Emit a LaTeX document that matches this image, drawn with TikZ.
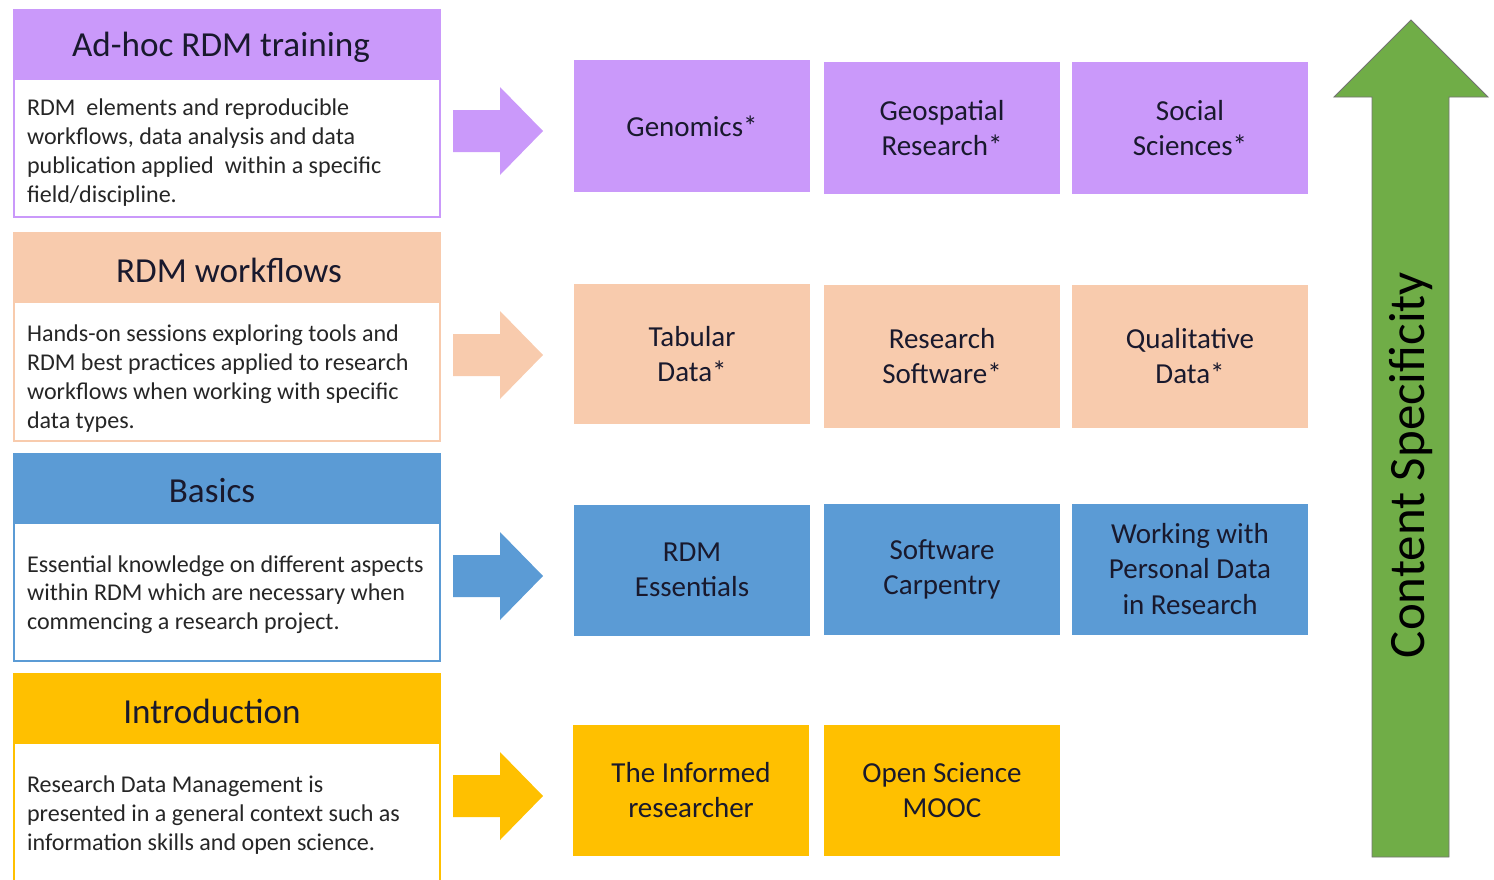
\documentclass[tikz,border=0pt]{standalone}
\usepackage{fontspec}
\setmainfont{Carlito}
\usepackage{xcolor}
\usetikzlibrary{positioning}
\definecolor{adhocpurple}{RGB}{202,153,250}
\definecolor{workflowpeach}{RGB}{248,203,173}
\definecolor{basicsblue}{RGB}{91,155,213}
\definecolor{introyellow}{RGB}{255,192,0}
\definecolor{specgreen}{RGB}{112,173,71}
\definecolor{headtext}{RGB}{25,25,45}

\tikzset{
  headbox/.style={minimum width=8.52cm, minimum height=1.4cm, inner sep=0pt, text=headtext},
  headtitle/.style={inner sep=0pt, font=\fontsize{20}{24}\selectfont, text=headtext},
  bodybox/.style={fill=white, minimum width=8.52cm, inner sep=0pt},
  bodytext/.style={anchor=west, align=left, inner sep=0pt, font=\fontsize{13.7}{16.5}\selectfont, text=black!85},
  course/.style={minimum width=4.74cm, inner sep=0pt, align=center, font=\fontsize{16.5}{20}\selectfont, text=headtext},
}

\begin{document}
\begin{tikzpicture}[x=0.02cm, y=-0.02cm]
    \useasboundingbox (0,0) rectangle (1494,879);
    % training levels on the left
    \foreach \i/\col/\top/\bh/\tx/\dy/\title/\body in {
        1/adhocpurple/10/136/221/4/{Ad-hoc RDM training}/{RDM\ \ elements and reproducible\\workflows, data analysis and data\\publication applied\ \ within a specific\\field/discipline.},
        2/workflowpeach/233/137/229/6/{RDM workflows}/{Hands-on sessions exploring tools and\\RDM best practices applied to research\\workflows when working with specific\\data types.},
        3/basicsblue/454/136/212/2/{Basics}/{Essential knowledge on different aspects\\within RDM which are necessary when\\commencing a research project.},
        4/introyellow/674/140/212/0/{Introduction}/{Research Data Management is\\presented in a general context such as\\information skills and open science.}} {
        \node[headbox, fill=\col] (head\i) at (227,\top+35) {};
        \node[headtitle] (title\i) at (\tx,\top+37) {\title};
        \node[bodybox, minimum height=\bh*0.02cm, below=0pt of head\i] (body\i) {};
        \draw[\col, line width=1.2pt] (head\i.north west) rectangle (body\i.south east);
        \node[bodytext] (txt\i) at ([xshift=0.26cm, yshift=-\dy*0.02cm]body\i.west) {\body};
    }
    % block arrows
    \foreach \y/\col in {131/adhocpurple, 355/workflowpeach, 576/basicsblue, 796/introyellow}
        \fill[\col] (453,\y-21) -- (500,\y-21) -- (500,\y-44) -- (543,\y) -- (500,\y+44) -- (500,\y+21) -- (453,\y+21) -- cycle;
    % courses
    \foreach \r/\c/\x/\y/\h/\col/\label in {
        1/1/692/126/132/adhocpurple/{Genomics*},
        1/2/942/128/132/adhocpurple/{Geospatial\\Research*},
        1/3/1190/128/132/adhocpurple/{Social\\Sciences*},
        2/1/692/354/140/workflowpeach/{Tabular\\Data*},
        2/2/942/356/143/workflowpeach/{Research\\Software*},
        2/3/1190/356/143/workflowpeach/{Qualitative\\Data*},
        3/1/692/570/131/basicsblue/{RDM\\Essentials},
        3/2/942/569/131/basicsblue/{Software\\Carpentry},
        3/3/1190/569/131/basicsblue/{Working with\\Personal Data\\in Research},
        4/1/691/790/131/introyellow/{The Informed\\researcher},
        4/2/942/790/131/introyellow/{Open Science\\MOOC}}
        \node[course, fill=\col, minimum height=\h*0.02cm] (c\r-\c) at (\x,\y) {\label};
    % content specificity arrow
    \filldraw[fill=specgreen, draw=black!55, line width=0.5pt] (1372,857) -- (1372,97) -- (1334,97) -- (1411,20)
        -- (1488,97) -- (1449,97) -- (1449,857) -- cycle;
    \node[rotate=90, font=\fontsize{29}{34}\selectfont, text=black] (spec) at (1411,465) {Content Specificity};
\end{tikzpicture}
\end{document}
